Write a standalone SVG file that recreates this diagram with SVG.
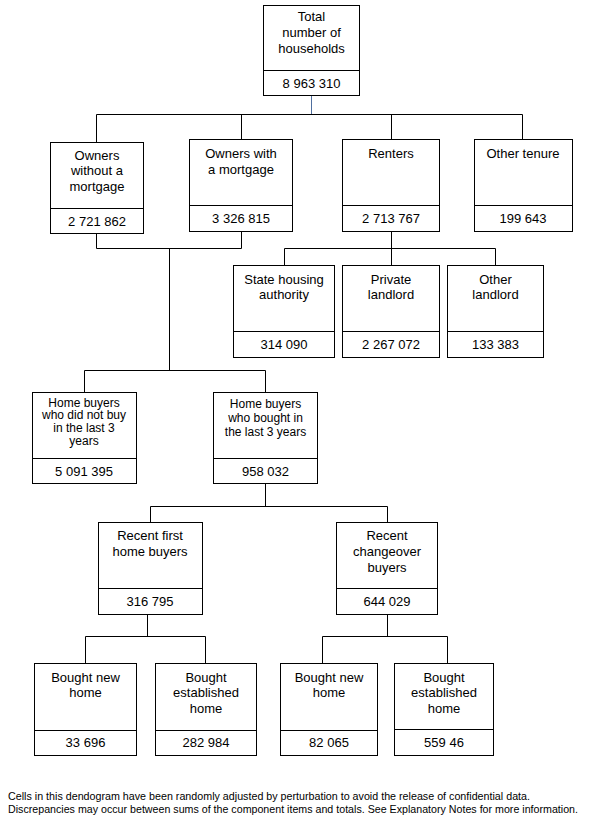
<svg xmlns="http://www.w3.org/2000/svg" width="592" height="821" viewBox="0 0 592 821">
<style>
.box{fill:#fff;stroke:#000;stroke-width:1}
.div{stroke:#000;stroke-width:1}
.t{font-family:"Liberation Sans",Arial,sans-serif;font-size:13px;fill:#000;text-anchor:middle}
.s{font-size:12px}
.c{fill:none;stroke:#000;stroke-width:1}
.note{font-family:"Liberation Sans",Arial,sans-serif;font-size:10.6px;fill:#000}
</style>
<rect width="592" height="821" fill="#fff"/>
<g id="connectors">
<path d="M311.5 95.5V114.5" fill="none" stroke="#4f6f9f" stroke-width="1"/>
<path class="c" d="M96.5 142V114.5H522.5V139M241.5 114.5V139M391.5 114.5V139"/>
<path class="c" d="M96.5 233V248.5H241.5V231M169.5 248.5V370.5"/>
<path class="c" d="M391.5 231V248.5M284.5 265V248.5H495.5V265M391.5 248.5V265"/>
<path class="c" d="M84.5 392V370.5H265.5V392"/>
<path class="c" d="M265.5 483V506.5M150.5 522V506.5H387.5V522"/>
<path class="c" d="M147.5 614V636.5M85.5 663V636.5H205.5V663"/>
<path class="c" d="M387.5 614V636.5M322.5 663V636.5H447.5V663"/>
</g>
<g id="total">
<rect class="box" x="263.5" y="5.5" width="96" height="90"/>
<path class="div" d="M263.5 70.5H359.5"/>
<text class="t" x="311.5" y="21">Total</text>
<text class="t" x="311.5" y="37">number of</text>
<text class="t" x="311.5" y="53">households</text>
<text class="t" x="311.5" y="88">8 963 310</text>
</g>
<g id="owners-without">
<rect class="box" x="50.5" y="142.5" width="93" height="91"/>
<path class="div" d="M50.5 208.5H143.5"/>
<text class="t" x="97" y="159.5">Owners</text>
<text class="t" x="97" y="175">without a</text>
<text class="t" x="97" y="191">mortgage</text>
<text class="t" x="97" y="225.5">2 721 862</text>
</g>
<g id="owners-with">
<rect class="box" x="189.5" y="139.5" width="103" height="92"/>
<path class="div" d="M189.5 205.5H292.5"/>
<text class="t" x="241" y="157.5">Owners with</text>
<text class="t" x="241" y="173.5">a mortgage</text>
<text class="t" x="241" y="223">3 326 815</text>
</g>
<g id="renters">
<rect class="box" x="342.5" y="139.5" width="97" height="92"/>
<path class="div" d="M342.5 205.5H439.5"/>
<text class="t" x="391" y="157.5">Renters</text>
<text class="t" x="391" y="223">2 713 767</text>
</g>
<g id="other-tenure">
<rect class="box" x="474.5" y="139.5" width="98" height="92"/>
<path class="div" d="M474.5 205.5H572.5"/>
<text class="t" x="523" y="157.5">Other tenure</text>
<text class="t" x="523" y="223">199 643</text>
</g>
<g id="state-housing">
<rect class="box" x="233.5" y="265.5" width="101" height="92"/>
<path class="div" d="M233.5 331.5H334.5"/>
<text class="t" x="284" y="283.5">State housing</text>
<text class="t" x="284" y="299">authority</text>
<text class="t" x="284" y="349">314 090</text>
</g>
<g id="private-landlord">
<rect class="box" x="342.5" y="265.5" width="97" height="92"/>
<path class="div" d="M342.5 331.5H439.5"/>
<text class="t" x="391" y="283.5">Private</text>
<text class="t" x="391" y="299">landlord</text>
<text class="t" x="391" y="349">2 267 072</text>
</g>
<g id="other-landlord">
<rect class="box" x="447.5" y="265.5" width="96" height="92"/>
<path class="div" d="M447.5 331.5H543.5"/>
<text class="t" x="495.5" y="283.5">Other</text>
<text class="t" x="495.5" y="299">landlord</text>
<text class="t" x="495.5" y="349">133 383</text>
</g>
<g id="home-buyers-not">
<rect class="box" x="32.5" y="392.5" width="104" height="91"/>
<path class="div" d="M32.5 458.5H136.5"/>
<text class="t s" x="84" y="406.5">Home buyers</text>
<text class="t s" x="84" y="419.3">who did not buy</text>
<text class="t s" x="84" y="432">in the last 3</text>
<text class="t s" x="84" y="444.6">years</text>
<text class="t" x="84" y="475.5">5 091 395</text>
</g>
<g id="home-buyers-bought">
<rect class="box" x="213.5" y="392.5" width="104" height="91"/>
<path class="div" d="M213.5 458.5H317.5"/>
<text class="t s" x="265.5" y="408">Home buyers</text>
<text class="t s" x="265.5" y="422">who bought in</text>
<text class="t s" x="265.5" y="436">the last 3 years</text>
<text class="t" x="265.5" y="475.5">958 032</text>
</g>
<g id="recent-first">
<rect class="box" x="98.5" y="522.5" width="104" height="92"/>
<path class="div" d="M98.5 588.5H202.5"/>
<text class="t" x="150" y="540">Recent first</text>
<text class="t" x="150" y="556">home buyers</text>
<text class="t" x="150" y="605.5">316 795</text>
</g>
<g id="recent-changeover">
<rect class="box" x="336.5" y="522.5" width="101" height="92"/>
<path class="div" d="M336.5 588.5H437.5"/>
<text class="t" x="387" y="540">Recent</text>
<text class="t" x="387" y="556">changeover</text>
<text class="t" x="387" y="572">buyers</text>
<text class="t" x="387" y="605.5">644 029</text>
</g>
<g id="bought-new-1">
<rect class="box" x="34.5" y="663.5" width="102" height="92"/>
<path class="div" d="M34.5 730.5H136.5"/>
<text class="t" x="85.5" y="681.5">Bought new</text>
<text class="t" x="85.5" y="697">home</text>
<text class="t" x="85.5" y="746.5">33 696</text>
</g>
<g id="bought-established-1">
<rect class="box" x="155.5" y="663.5" width="101" height="92"/>
<path class="div" d="M155.5 730.5H256.5"/>
<text class="t" x="206" y="681.5">Bought</text>
<text class="t" x="206" y="697">established</text>
<text class="t" x="206" y="713">home</text>
<text class="t" x="206" y="746.5">282 984</text>
</g>
<g id="bought-new-2">
<rect class="box" x="280.5" y="663.5" width="97" height="92"/>
<path class="div" d="M280.5 730.5H377.5"/>
<text class="t" x="329" y="681.5">Bought new</text>
<text class="t" x="329" y="697">home</text>
<text class="t" x="329" y="746.5">82 065</text>
</g>
<g id="bought-established-2">
<rect class="box" x="394.5" y="663.5" width="99" height="92"/>
<path class="div" d="M394.5 729.5H493.5"/>
<text class="t" x="444" y="681.5">Bought</text>
<text class="t" x="444" y="697">established</text>
<text class="t" x="444" y="713">home</text>
<text class="t" x="444" y="746.5">559 46</text>
</g>
<g id="footnote">
<text class="note" x="8" y="800" textLength="522" lengthAdjust="spacingAndGlyphs">Cells in this dendogram have been randomly adjusted by perturbation to avoid the release of confidential data.</text>
<text class="note" x="8" y="813" textLength="570" lengthAdjust="spacingAndGlyphs">Discrepancies may occur between sums of the component items and totals. See Explanatory Notes for more information.</text>
</g>
</svg>
